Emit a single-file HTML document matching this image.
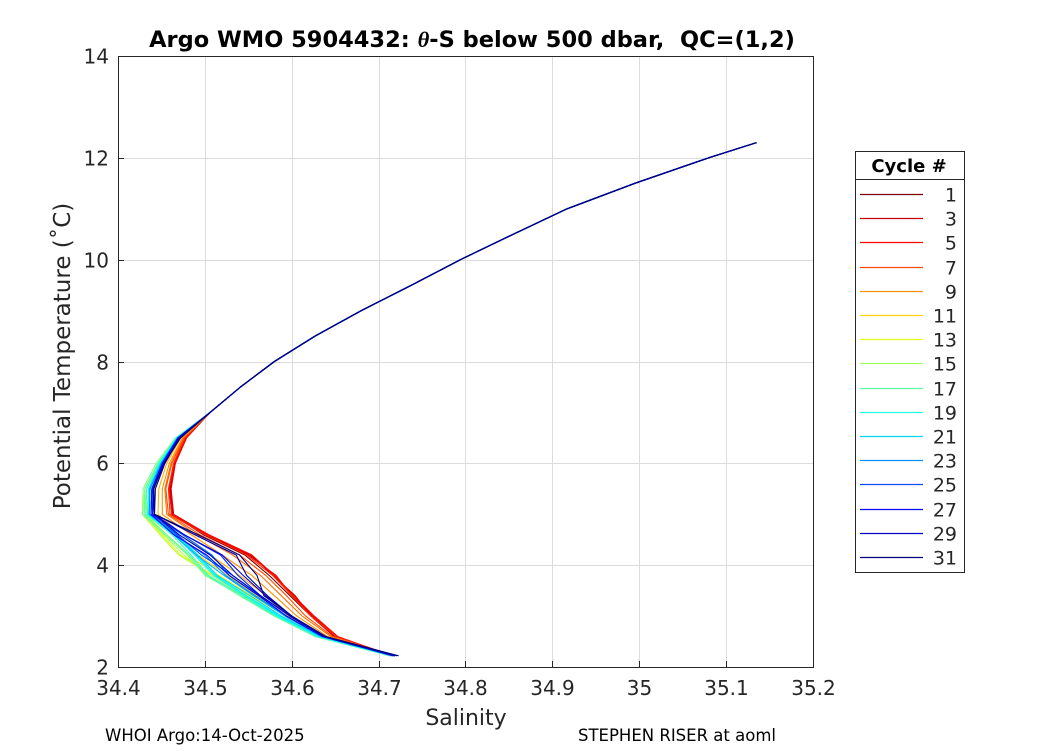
<!DOCTYPE html>
<html><head><meta charset="utf-8"><style>
body{margin:0;background:#fff;font-family:"Liberation Sans","DejaVu Sans",sans-serif}
svg text{font-family:"DejaVu Sans","Liberation Sans",sans-serif}
</style></head><body>
<svg id="c" width="1050" height="750" xmlns="http://www.w3.org/2000/svg">
<rect width="1050" height="750" fill="#fff"/>
<text x="472" y="47" text-anchor="middle" font-size="22.5" font-weight="bold" style="white-space:pre">Argo WMO 5904432: <tspan font-style="italic" font-family="Liberation Serif">θ</tspan>-S below 500 dbar,  QC=(1,2)</text>
<g id="grid"></g><g id="series"></g><g id="axes"></g><g id="legend"></g>
<text x="466" y="725" text-anchor="middle" font-size="22" fill="#262626">Salinity</text>
<text transform="translate(70,356) rotate(-90)" text-anchor="middle" font-size="23" fill="#262626">Potential Temperature (˚C)</text>
<text x="105" y="741" font-size="16.5">WHOI Argo:14-Oct-2025</text>
<text x="578" y="741" font-size="16.5">STEPHEN RISER at aoml</text>
</svg>
<script>
const xTicks=[34.4,34.5,34.6,34.7,34.8,34.9,35,35.1,35.2];
const xTickLabels=["34.4","34.5","34.6","34.7","34.8","34.9","35","35.1","35.2"];
const yTicks=[2,4,6,8,10,12,14];
const yTickLabels=["2","4","6","8","10","12","14"];
const legendCycles=[1,3,5,7,9,11,13,15,17,19,21,23,25,27,29,31];
const levelsT=[12.3,12,11.5,11,10.5,10,9.5,9,8.5,8,7.5,7,6.5,6,5.5,5,4.6,4.2,3.8,3.4,3.0,2.6,2.22];
const baseS=[35.135,35.080,34.995,34.917,34.855,34.794,34.738,34.680,34.627,34.580,34.541,34.506,34.472,34.456,34.447,34.448,34.478,34.510,34.540,34.570,34.600,34.637,34.715];
// per-cycle salinity deviations (x0.001) at the lowest 11 levels: 6.5 .. 2.22
const dev=[
[5,8,12,14,20,36,34,28,22,12,2],[6,9,13,15,24,42,40,32,24,14,0],[6,10,14,16,26,44,38,34,22,12,-2],
[7,10,14,15,24,40,42,30,24,14,2],[6,9,12,14,26,44,40,32,26,16,0],[5,8,11,12,22,38,38,30,22,14,-2],
[4,6,8,10,16,30,30,24,16,10,0],[3,5,7,8,12,22,24,18,12,8,2],[2,3,4,3,6,10,14,10,6,4,2],
[0,0,0,-2,-4,-4,0,0,-4,0,2],[-2,-3,-5,-8,-12,-18,-14,-10,-8,-4,0],[-3,-6,-10,-16,-22,-30,-24,-16,-12,-6,0],
[-4,-8,-14,-18,-28,-38,-30,-20,-16,-8,-2],[-5,-10,-16,-20,-30,-40,-32,-24,-18,-8,0],[-4,-8,-14,-18,-26,-34,-36,-26,-16,-8,2],
[-6,-12,-18,-20,-24,-30,-40,-28,-18,-10,0],[-5,-10,-16,-18,-22,-28,-38,-30,-20,-10,-2],[-5,-9,-14,-16,-16,-26,-36,-26,-18,-8,0],
[-4,-8,-12,-14,-14,-22,-30,-24,-16,-6,2],[-3,-6,-10,-13,-12,-20,-28,-22,-14,-6,0],[-4,-7,-11,-12,-10,-18,-26,-18,-12,-4,2],
[-3,-5,-8,-10,-14,-20,-18,-14,-8,-2,0],[-3,-6,-10,-12,-12,-10,-16,-12,-6,-2,2],[-2,-4,-8,-10,-4,-2,-12,-8,-6,-2,4],
[-3,-5,-8,-8,-10,-14,-8,-6,-2,0,2],[-2,-4,-7,-6,-2,8,-2,-6,-2,0,4],[-3,-5,-8,-10,-14,-8,-12,-8,-6,-2,2],
[-2,-3,-6,-8,-2,10,4,0,0,2,4],[-1,-3,-6,-6,-8,-4,-8,-6,-2,0,4],[-1,-2,-4,-6,10,26,8,2,0,2,6],
[0,-3,-6,-6,14,30,20,-2,0,2,8]];
const X0=118,X1=813,Y0=667,Y1=56;
const xs=s=>X0+(s-34.4)/0.8*(X1-X0);
const ys=t=>Y0-(t-2)/12*(Y0-Y1);
const NS="http://www.w3.org/2000/svg";
function mk(tag,attrs,parent){const e=document.createElementNS(NS,tag);for(const k in attrs)e.setAttribute(k,attrs[k]);parent.appendChild(e);return e;}
function jet(v){const r=Math.min(Math.max(Math.min(4*v-1.5,-4*v+4.5),0),1),g=Math.min(Math.max(Math.min(4*v-0.5,-4*v+3.5),0),1),b=Math.min(Math.max(Math.min(4*v+0.5,-4*v+2.5),0),1);return `rgb(${Math.round(r*255)},${Math.round(g*255)},${Math.round(b*255)})`;}
const cyc=n=>jet(1-(n-1)/30);
const grid=document.getElementById('grid'),axes=document.getElementById('axes'),ser=document.getElementById('series'),leg=document.getElementById('legend');
xTicks.forEach((v,i)=>{const x=Math.round(xs(v))+0.5;
 if(i>0&&i<xTicks.length-1){const l=mk('line',{x1:x,x2:x,y1:Y1,y2:Y0,stroke:'#dcdcdc','stroke-width':1},grid);}
 mk('line',{x1:x,x2:x,y1:Y0,y2:Y0-6,stroke:'#262626'},axes);
 const t=mk('text',{x:x,y:Y0+28,'text-anchor':'middle','font-size':20,fill:'#262626'},axes);t.textContent=xTickLabels[i];
 });
yTicks.forEach((v,i)=>{const y=Math.round(ys(v))+0.5;
 if(i>0&&i<yTicks.length-1){const l=mk('line',{x1:X0,x2:X1,y1:y,y2:y,stroke:'#dcdcdc','stroke-width':1},grid);}
 mk('line',{x1:X0,x2:X0+6,y1:y,y2:y,stroke:'#262626'},axes);
 const t=mk('text',{x:X0-9,y:y+7,'text-anchor':'end','font-size':20,fill:'#262626'},axes);t.textContent=yTickLabels[i];
 });
const box=mk('rect',{x:X0+0.5,y:Y1+0.5,width:X1-X0,height:Y0-Y1,fill:'none',stroke:'#262626','stroke-width':1},axes);

const nBase=levelsT.length-11;
dev.forEach((d,ci)=>{const n=ci+1;
 const pts=levelsT.map((t,k)=>{const s=baseS[k]+(k>=nBase?d[k-nBase]/1000:0);return xs(s).toFixed(1)+','+ys(t).toFixed(1);}).join(' ');
 const p=mk('polyline',{points:pts,fill:'none',stroke:cyc(n),'stroke-width':1.1,'stroke-linejoin':'round'},ser);
 });
const lb=mk('rect',{x:855.5,y:151.5,width:109,height:421,fill:'#fff',stroke:'#262626'},leg);

mk('line',{x1:855,x2:964,y1:179.5,y2:179.5,stroke:'#262626'},leg);
const lt=mk('text',{x:909,y:172,'text-anchor':'middle','font-size':18,'font-weight':'bold'},leg);lt.textContent='Cycle #';

legendCycles.forEach((n,i)=>{const y=Math.round(194+i*24.2)+0.5;
 const l=mk('line',{x1:860,x2:923,y1:y,y2:y,stroke:cyc(n),'stroke-width':1.2},leg);
 
 const t=mk('text',{x:957,y:y+7,'text-anchor':'end','font-size':19,fill:'#262626'},leg);t.textContent=n;
 });
</script>
</body></html>
